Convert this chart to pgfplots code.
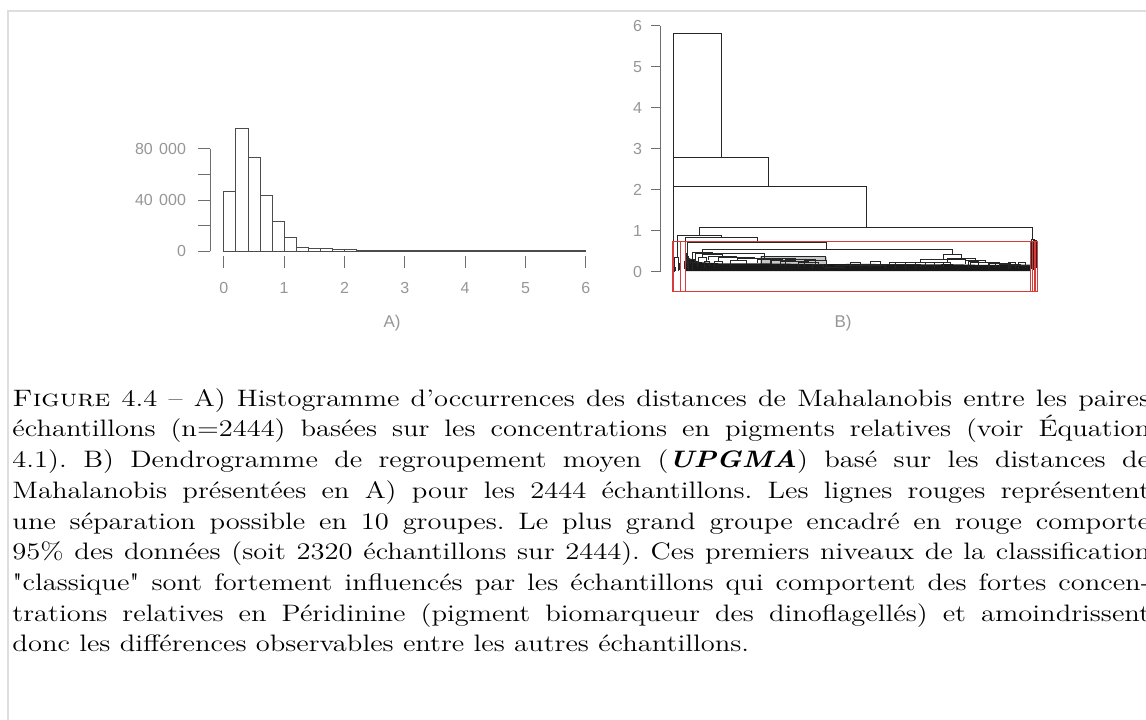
\documentclass[border=0pt]{standalone}
\usepackage{fontspec}
\usepackage{pgfplots}
\pgfplotsset{compat=1.18}
\newfontfamily\plotfont{Liberation Sans}
\newfontfamily\lmq{lmroman12-regular.otf}[Ligatures=TeXOff]
\definecolor{rectred}{RGB}{214,60,60}
\definecolor{ticklab}{RGB}{150,150,150}
\definecolor{axisgray}{RGB}{110,110,110}
\definecolor{framegray}{RGB}{222,222,222}

% histogram of pairwise distances (bins of 0.2)
\pgfplotstableread{
x     n
0.0   46500
0.2   96200
0.4   73500
0.6   43900
0.8   23000
1.0   10400
1.2   2400
1.4   2000
1.6   1600
1.8   1300
2.0   1000
2.2   800
2.4   650
2.6   520
2.8   430
3.0   360
3.2   300
3.4   260
3.6   230
3.8   200
4.0   180
4.2   160
4.4   150
4.6   140
4.8   130
5.0   120
5.2   110
5.4   100
5.6   100
5.8   90
6.0   0
}\histdata

\begin{document}
\begin{tikzpicture}
\useasboundingbox (0,0) rectangle (573pt,359.5pt);
\clip (0,0) rectangle (573pt,359.5pt);
\draw[framegray, line width=1pt] (4pt,-5pt) -- (4pt,353.75pt) -- (580pt,353.75pt);

% ---------- A) histogram
\begin{axis}[
    at={(105pt,231.5pt)}, anchor=south west,
    scale only axis, width=188.5pt, height=64.35pt,
    xmin=-0.23, xmax=6.02, ymin=-3900, ymax=97000,
    axis x line*=bottom, axis y line*=left,
    axis line style={draw=none},
    scaled y ticks=false,
    tick align=outside, major tick length=6pt,
    tick style={axisgray, line width=0.5pt},
    xtick={0,1,2,3,4,5,6}, xticklabels={0,1,2,3,4,5,6},
    ytick={0,20000,40000,60000,80000},
    yticklabels={0,,40\hspace{0.4em}000,,80\hspace{0.4em}000},
    tick label style={font=\plotfont\fontsize{8}{9}\selectfont, text=ticklab},
    yticklabel style={xshift=-2.5pt},
    xticklabel style={yshift=-3.5pt},
    /pgf/number format/assume math mode=true,
    clip=false]
  \draw[axisgray, line width=0.5pt] (axis cs:-0.23,0) -- (axis cs:-0.23,80000);
  \addplot[ybar interval, draw=black!70, fill=none, line width=0.5pt] table[x=x, y=n] {\histdata};
\end{axis}
\node[font=\plotfont\fontsize{8.5}{10}\selectfont, text=ticklab] at (196pt,198pt) {A)};

% ---------- B) dendrogram (x = leaf order, y = merge height)
\begin{axis}[
    at={(330pt,213.25pt)}, anchor=south west,
    scale only axis, width=190pt, height=133.4pt,
    xmin=-86, xmax=2464, ymin=-0.5, ymax=6,
    axis y line*=left, axis x line=none,
    axis line style={draw=none},
    xtick=\empty,
    ytick={0,1,2,3,4,5,6}, yticklabels={0,1,2,3,4,5,6},
    tick align=outside, major tick length=4.5pt,
    tick style={axisgray, line width=0.5pt},
    tick label style={font=\plotfont\fontsize{8}{9}\selectfont, text=ticklab},
    yticklabel style={xshift=-1pt},
    /pgf/number format/assume math mode=true,
    unbounded coords=jump,
    clip=false]
  \draw[axisgray, line width=0.5pt] (axis cs:-86,0) -- (axis cs:-86,6);
  % dense leaves
  \addplot[draw=none, fill=black!22] coordinates {
    (585,0.2) (585,0.38) (1034,0.36) (1034,0.2) (585,0.2)};
  \addplot[draw=none, fill=black!90] coordinates {
    (87,0.02) (87,0.3) (108,0.34) (135,0.3) (182,0.24) (316,0.21) (585,0.21)
    (800,0.2) (1054,0.19) (1300,0.2) (1524,0.18) (1860,0.19) (2100,0.17) (2397,0.18)
    (2397,0.02) (87,0.02)};
  % merges
  \addplot[black!85, line width=0.45pt] coordinates {
    (1,0) (1,5.8) (323,5.8) (323,2.8) (323,nan)
    (2,0) (2,2.8) (645,2.8) (645,2.08) (645,nan)
    (3,0) (3,2.08) (1296,2.08) (1296,1.09) (1296,nan)
    (182,0.9) (182,1.09) (2416,1.09) (2416,0.79) (2416,nan)
    (28,0.35) (28,0.9) (323,0.9) (323,0.83) (323,nan)
    (82,0.25) (82,0.83) (565,0.83) (565,0.72) (565,nan)
    (95,0.45) (95,0.72) (1034,0.72) (1034,0.56) (1034,nan)
    (196,0.48) (196,0.56) (1875,0.56) (1875,0.42) (1875,nan)
    (2405,0.3) (2405,0.79) (2427,0.79) (2427,0.77) (2427,nan)
    (2418,0.2) (2418,0.77) (2436,0.77) (2436,0.76) (2436,nan)
    (2429,0.12) (2429,0.76) (2440,0.76) (2440,0.1) (2440,nan)
    (2401,0.05) (2401,0.3) (2409,0.3) (2409,0.08) (2409,nan)
    (2415,0.05) (2415,0.2) (2421,0.2) (2421,0.06) (2421,nan)
    (14,0.1) (14,0.35) (41,0.35) (41,0.2) (41,nan)
    (35,0.02) (35,0.2) (47,0.2) (47,0.05) (47,nan)
    (8,0) (8,0.1) (20,0.1) (20,0.03) (20,nan)
    (78,0.08) (78,0.25) (86,0.25) (86,0.02) (86,nan)
    (89,0.2) (89,0.45) (101,0.45) (101,0.38) (101,nan)
    (95,0.1) (95,0.38) (108,0.38) (108,0.3) (108,nan)
    (102,0.05) (102,0.3) (115,0.3) (115,0.2) (115,nan)
    (129,0.3) (129,0.48) (263,0.48) (263,0.42) (263,nan)
    (108,0.15) (108,0.3) (149,0.3) (149,0.22) (149,nan)
    (135,0.05) (135,0.22) (162,0.22) (162,0.12) (162,nan)
    (196,0.35) (196,0.42) (330,0.42) (330,0.38) (330,nan)
    (169,0.2) (169,0.35) (229,0.35) (229,0.25) (229,nan)
    (209,0.1) (209,0.25) (249,0.25) (249,0.15) (249,nan)
    (236,0.3) (236,0.38) (424,0.38) (424,0.36) (424,nan)
    (303,0.25) (303,0.36) (545,0.36) (545,0.33) (545,nan)
    (276,0.12) (276,0.25) (330,0.25) (330,0.18) (330,nan)
    (437,0.28) (437,0.33) (652,0.33) (652,0.3) (652,nan)
    (384,0.15) (384,0.28) (491,0.28) (491,0.2) (491,nan)
    (565,0.22) (565,0.3) (739,0.3) (739,0.28) (739,nan)
    (665,0.2) (665,0.28) (813,0.28) (813,0.26) (813,nan)
    (719,0.15) (719,0.26) (907,0.26) (907,0.22) (907,nan)
    (840,0.12) (840,0.22) (974,0.22) (974,0.18) (974,nan)
    (934,0.1) (934,0.18) (1014,0.18) (1014,0.12) (1014,nan)
    (149,0.3) (149,0.46) (618,0.46) (618,0.35) (618,nan)
    (598,0.2) (598,0.37) (1021,0.37) (1021,0.3) (1021,nan)
    (652,0.18) (652,0.33) (820,0.33) (820,0.25) (820,nan)
    (753,0.15) (753,0.3) (954,0.3) (954,0.2) (954,nan)
    (886,0.12) (886,0.27) (1034,0.27) (1034,0.15) (1034,nan)
    (1813,0.3) (1813,0.42) (1937,0.42) (1937,0.34) (1937,nan)
    (1846,0.22) (1846,0.34) (2028,0.34) (2028,0.28) (2028,nan)
    (1961,0.2) (1961,0.28) (2095,0.28) (2095,0.24) (2095,nan)
    (1994,0.15) (1994,0.24) (2195,0.24) (2195,0.2) (2195,nan)
    (2128,0.12) (2128,0.2) (2263,0.2) (2263,0.18) (2263,nan)
    (2195,0.1) (2195,0.18) (2330,0.18) (2330,0.15) (2330,nan)
    (2263,0.08) (2263,0.15) (2397,0.15) (2397,0.1) (2397,nan)
    (1659,0.22) (1659,0.3) (1967,0.3) (1967,0.2) (1967,nan)
    (1457,0.18) (1457,0.22) (1860,0.22) (1860,0.16) (1860,nan)
    (1256,0.15) (1256,0.18) (1659,0.18) (1659,0.12) (1659,nan)
    (1088,0.12) (1088,0.15) (1424,0.15) (1424,0.1) (1424,nan)
    (1021,0.08) (1021,0.12) (1155,0.12) (1155,0.08) (1155,nan)
    (1189,0.1) (1189,0.24) (1256,0.24) (1256,0.12) (1256,nan)
    (1323,0.1) (1323,0.25) (1390,0.25) (1390,0.12) (1390,nan)
    (1491,0.1) (1491,0.24) (1558,0.24) (1558,0.1) (1558,nan)
    (1625,0.1) (1625,0.23) (1692,0.23) (1692,0.12) (1692,nan)
    (1759,0.1) (1759,0.24) (1813,0.24) (1813,0.12) (1813,nan)
    (1981,0.1) (1981,0.26) (2048,0.26) (2048,0.12) (2048,nan)
    (2115,0.08) (2115,0.24) (2162,0.24) (2162,0.1) (2162,nan)
    (2249,0.08) (2249,0.23) (2296,0.23) (2296,0.1) (2296,nan)
    (2316,0.08) (2316,0.22) (2363,0.22) (2363,0.1)
  };
  % 10 groups
  \addplot[rectred, line width=0.45pt] coordinates {
    (0.66,-0.48) (0.66,0.75) (1.33,0.75) (1.33,-0.48) (0.66,-0.48) (0.66,nan)
    (1.66,-0.48) (1.66,0.75) (2.33,0.75) (2.33,-0.48) (1.66,-0.48) (1.66,nan)
    (2.66,-0.48) (2.66,0.75) (3.33,0.75) (3.33,-0.48) (2.66,-0.48) (2.66,nan)
    (3.66,-0.48) (3.66,0.75) (50.33,0.75) (50.33,-0.48) (3.66,-0.48) (3.66,nan)
    (50.66,-0.48) (50.66,0.75) (86.33,0.75) (86.33,-0.48) (50.66,-0.48) (50.66,nan)
    (86.66,-0.48) (86.66,0.75) (2398.33,0.75) (2398.33,-0.48) (86.66,-0.48) (86.66,nan)
    (2398.66,-0.48) (2398.66,0.75) (2412.33,0.75) (2412.33,-0.48) (2398.66,-0.48) (2398.66,nan)
    (2412.66,-0.48) (2412.66,0.75) (2424.33,0.75) (2424.33,-0.48) (2412.66,-0.48) (2412.66,nan)
    (2424.66,-0.48) (2424.66,0.75) (2434.33,0.75) (2434.33,-0.48) (2424.66,-0.48) (2424.66,nan)
    (2434.66,-0.48) (2434.66,0.75) (2444.33,0.75) (2444.33,-0.48) (2434.66,-0.48)
  };
\end{axis}
\node[font=\plotfont\fontsize{8.5}{10}\selectfont, text=ticklab] at (421.5pt,198pt) {B)};

% ---------- caption (the scan is stretched horizontally)
\node[anchor=north west, inner sep=0pt, xscale=1.2, transform shape,
      text width=474pt, align=justify,
      font=\fontsize{11.9}{15.35}\selectfont\frenchspacing] at (6pt,165.5pt) {%
\textsc{Figure} 4.4 -- A) Histogramme d'occurrences des distances de Mahalanobis entre les paires\linebreak
échantillons (n=2444) basées sur les concentrations en pigments relatives (voir Équation\linebreak
4.1). B) Dendrogramme de regroupement moyen (\textbf{\textit{UPGMA}}) basé sur les distances de\linebreak
Mahalanobis présentées en A) pour les 2444 échantillons. Les lignes rouges représentent\linebreak
une séparation possible en 10 groupes. Le plus grand groupe encadré en rouge comporte\linebreak
95\% des données (soit 2320 échantillons sur 2444). Ces premiers niveaux de la classification\linebreak
{\lmq"}classique{\lmq"} sont fortement influencés par les échantillons qui comportent des fortes concen-\linebreak
trations relatives en Péridinine (pigment biomarqueur des dinoflagellés) et amoindrissent\linebreak
donc les différences observables entre les autres échantillons.};
\end{tikzpicture}
\end{document}
